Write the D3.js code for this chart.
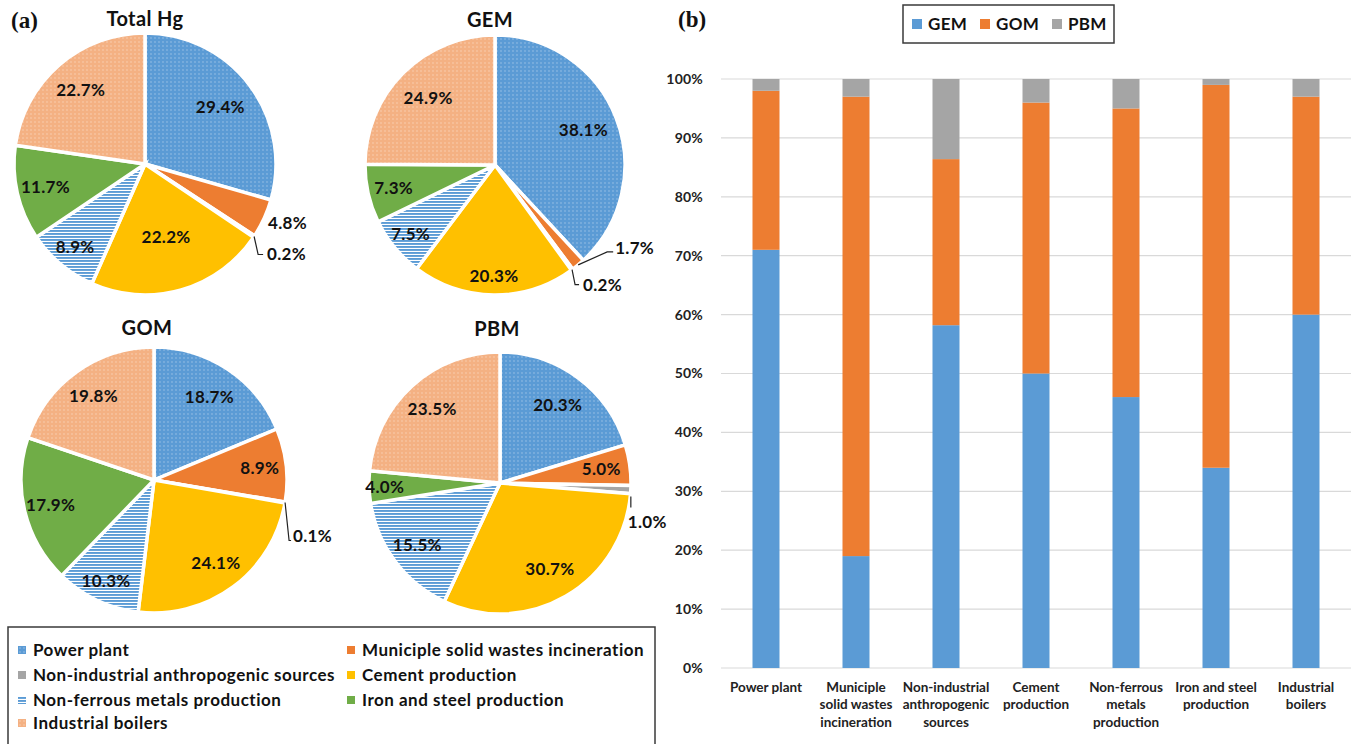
<!DOCTYPE html>
<html>
<head>
<meta charset="utf-8">
<script src="https://cdn.jsdelivr.net/npm/d3@7/dist/d3.min.js"></script>
<style>
  body { margin: 0; background: #fff; }
  svg { display: block; font-family: Lato, "Open Sans", sans-serif; font-weight: bold; }
</style>
</head>
<body>
<svg id="chart" width="1359" height="744"></svg>
<script>
// sources (same order for the pies, the legend and the bar categories)
const sources = [
    "Power plant",
    "Municiple solid wastes incineration",
    "Non-industrial anthropogenic sources",
    "Cement production",
    "Non-ferrous metals production",
    "Iron and steel production",
    "Industrial boilers"
];

// (a) share of each source, %
const totalHgShare = [29.4, 4.8, 0.2, 22.2, 8.9, 11.7, 22.7];
const gemShare = [38.1, 1.7, 0.2, 20.3, 7.5, 7.3, 24.9];
const gomShare = [18.7, 8.9, 0.1, 24.1, 10.3, 17.9, 19.8];
const pbmShare = [20.3, 5.0, 1.0, 30.7, 15.5, 4.0, 23.5];

// (b) speciation of each source, %
const species = ["GEM", "GOM", "PBM"];
const gemPart = [71, 19, 58.2, 50, 46, 34, 60];
const gomPart = [27, 78, 28.2, 46, 49, 65, 37];
const pbmPart = [2, 3, 13.6, 4, 5, 1, 3];
const tickLabels = [
    ["Power plant"],
    ["Municiple", "solid wastes", "incineration"],
    ["Non-industrial", "anthropogenic", "sources"],
    ["Cement", "production"],
    ["Non-ferrous", "metals", "production"],
    ["Iron and steel", "production"],
    ["Industrial", "boilers"]
];
const yTicks = [0, 10, 20, 30, 40, 50, 60, 70, 80, 90, 100];

const blue = "#5B9BD5", orange = "#ED7D31", grey = "#A5A5A5",
      yellow = "#FFC000", green = "#70AD47", peach = "#F4B183";

const svg = d3.select("#chart");
const defs = svg.append("defs");

function dotPattern(id, color) {
    const p = defs.append("pattern")
        .attr("id", id)
        .attr("patternUnits", "userSpaceOnUse")
        .attr("width", 4).attr("height", 4);
    p.append("rect").attr("width", 4).attr("height", 4).attr("fill", color);
    p.append("circle").attr("cx", 2).attr("cy", 2).attr("r", 0.7)
        .attr("fill", "#fff").attr("opacity", 0.45);
}
dotPattern("dotBlue", blue);
dotPattern("dotPeach", peach);

const stripes = defs.append("pattern")
    .attr("id", "stripeBlue")
    .attr("patternUnits", "userSpaceOnUse")
    .attr("width", 4).attr("height", 3);
stripes.append("rect").attr("width", 4).attr("height", 3).attr("fill", "#fff");
stripes.append("rect").attr("width", 4).attr("height", 1.9).attr("fill", blue);

const sourceFill = ["url(#dotBlue)", orange, grey, yellow, "url(#stripeBlue)", green, "url(#dotPeach)"];

// ---------- (a) pies ----------
const pies = [
    {
        title: "Total Hg", values: totalHgShare, cx: 145, cy: 164, r: 131, titleX: 145, titleY: 26,
        labelR: [0.72, null, null, 0.58, 0.83, 0.78, 0.75],
        callouts: [
            { i: 1, text: [4, 4], line: null },
            { i: 2, text: [13, 17], line: [[4, 18], [9, 18]] }
        ]
    },
    {
        title: "GEM", values: gemShare, cx: 495, cy: 165, r: 130, titleX: 490, titleY: 27,
        labelR: [0.73, null, null, 0.85, 0.84, 0.80, 0.73],
        callouts: [
            { i: 1, text: [37, -17], line: [[29, -13], [35, -13]] },
            { i: 2, text: [11, 15], line: [[3, 15], [7, 15]] }
        ]
    },
    {
        title: "GOM", values: gomShare, cx: 154, cy: 480, r: 133, titleX: 147, titleY: 335,
        labelR: [0.75, 0.80, null, 0.78, 0.84, 0.80, 0.78],
        callouts: [
            { i: 2, text: [8, 33], line: [[4, 38], [6, 38]] }
        ]
    },
    {
        title: "PBM", values: pbmShare, cx: 500, cy: 483, r: 131, titleX: 497, titleY: 336,
        labelR: [0.74, 0.78, null, 0.76, 0.79, 0.88, 0.77],
        callouts: [
            { i: 2, text: [-3, 32], line: null, tick: [[0, 7], [0, 18]] }
        ]
    }
];

const pie = d3.pie().sort(null).value(d => d);

pies.forEach(cfg => {
    const g = svg.append("g").attr("transform", `translate(${cfg.cx},${cfg.cy})`);
    const arcs = pie(cfg.values);
    const arc = d3.arc().innerRadius(0).outerRadius(cfg.r);

    g.selectAll("path")
        .data(arcs)
        .enter()
        .append("path")
        .attr("d", arc)
        .attr("fill", (d, i) => sourceFill[i])
        .attr("stroke", "#fff")
        .attr("stroke-width", 3.5)
        .attr("stroke-linejoin", "miter");

    const mid = d => (d.startAngle + d.endAngle) / 2;

    g.selectAll(".in-label")
        .data(arcs.filter((d, i) => cfg.labelR[i] !== null))
        .enter()
        .append("text")
        .attr("class", "in-label")
        .attr("x", d => Math.sin(mid(d)) * cfg.r * cfg.labelR[d.index])
        .attr("y", d => -Math.cos(mid(d)) * cfg.r * cfg.labelR[d.index])
        .attr("dy", "0.36em")
        .attr("text-anchor", "middle")
        .attr("font-size", 17)
        .attr("letter-spacing", 0.3)
        .attr("fill", "#111")
        .text(d => d.data.toFixed(1) + "%");

    cfg.callouts.forEach(c => {
        const d = arcs[c.i];
        const ex = Math.sin(mid(d)) * cfg.r, ey = -Math.cos(mid(d)) * cfg.r;
        if (c.line) {
            const pts = [[ex, ey]].concat(c.line.map(p => [ex + p[0], ey + p[1]]));
            g.append("path")
                .attr("d", d3.line()(pts))
                .attr("fill", "none")
                .attr("stroke", "#222")
                .attr("stroke-width", 1.2);
        }
        if (c.tick) {
            g.append("path")
                .attr("d", d3.line()(c.tick.map(p => [ex + p[0], ey + p[1]])))
                .attr("stroke", "#222")
                .attr("stroke-width", 1.2);
        }
        g.append("text")
            .attr("x", ex + c.text[0])
            .attr("y", ey + c.text[1])
            .attr("dy", "0.36em")
            .attr("font-size", 17)
            .attr("letter-spacing", 0.3)
            .attr("fill", "#111")
            .text(d.data.toFixed(1) + "%");
    });

    svg.append("text")
        .attr("x", cfg.titleX)
        .attr("y", cfg.titleY)
        .attr("text-anchor", "middle")
        .attr("font-size", 20)
        .attr("letter-spacing", 0.4)
        .attr("fill", "#111")
        .text(cfg.title);
});

svg.append("text")
    .attr("x", 11).attr("y", 28)
    .attr("font-family", "'Liberation Serif', 'DejaVu Serif', serif")
    .attr("font-size", 23)
    .attr("fill", "#111")
    .text("(a)");

// legend of the pies
svg.append("rect")
    .attr("x", 8).attr("y", 627)
    .attr("width", 647).attr("height", 130)
    .attr("fill", "#fff")
    .attr("stroke", "#3a3a3a")
    .attr("stroke-width", 1.5);

const legendCols = [18, 347];
const legendRows = [650, 675, 700, 723];
const legendPos = [[0, 0], [1, 0], [0, 1], [1, 1], [0, 2], [1, 2], [0, 3]];

const leg = svg.append("g").selectAll("g")
    .data(sources)
    .enter()
    .append("g")
    .attr("transform", (d, i) => `translate(${legendCols[legendPos[i][0]]},${legendRows[legendPos[i][1]]})`);

leg.append("rect")
    .attr("x", 0).attr("y", -4)
    .attr("width", 8).attr("height", 8)
    .attr("fill", (d, i) => sourceFill[i]);

leg.append("text")
    .attr("x", 15)
    .attr("dy", "0.36em")
    .attr("font-size", 17)
    .attr("letter-spacing", 0.5)
    .attr("fill", "#111")
    .text(d => d);

// ---------- (b) stacked bars ----------
const plot = { left: 721, right: 1351, top: 79, bottom: 668 };

const x = d3.scaleBand()
    .domain(sources)
    .range([plot.left, plot.right])
    .paddingInner(0.7)
    .paddingOuter(0.35);

const y = d3.scaleLinear()
    .domain([0, 100])
    .range([plot.bottom, plot.top]);

svg.append("g")
    .selectAll("line")
    .data(yTicks)
    .enter()
    .append("line")
    .attr("x1", plot.left).attr("x2", plot.right)
    .attr("y1", d => y(d)).attr("y2", d => y(d))
    .attr("stroke", "#d9d9d9")
    .attr("stroke-width", 1.2);

const yAxis = svg.append("g")
    .attr("transform", `translate(${plot.left},0)`)
    .call(d3.axisLeft(y).tickValues(yTicks).tickFormat(d => d + "%").tickSize(0).tickPadding(18));
yAxis.select(".domain").remove();
yAxis.selectAll("text")
    .attr("font-family", "Lato, sans-serif")
    .attr("font-weight", "bold")
    .attr("font-size", 14)
    .attr("letter-spacing", 0.2)
    .attr("fill", "#222");

const stackRows = sources.map((s, i) => ({ source: s, GEM: gemPart[i], GOM: gomPart[i], PBM: pbmPart[i] }));
const stacked = d3.stack().keys(species)(stackRows);
const speciesColor = d3.scaleOrdinal().domain(species).range([blue, orange, grey]);

svg.append("g")
    .selectAll("g")
    .data(stacked)
    .enter()
    .append("g")
    .attr("fill", d => speciesColor(d.key))
    .selectAll("rect")
    .data(d => d)
    .enter()
    .append("rect")
    .attr("x", d => x(d.data.source))
    .attr("y", d => y(d[1]))
    .attr("width", x.bandwidth())
    .attr("height", d => y(d[0]) - y(d[1]));

const xAxis = svg.append("g")
    .attr("transform", `translate(0,${plot.bottom})`)
    .call(d3.axisBottom(x).tickSize(0).tickFormat(""));
xAxis.select(".domain").remove();

xAxis.selectAll(".tick")
    .append("text")
    .attr("font-family", "Lato, sans-serif")
    .attr("font-weight", "bold")
    .attr("font-size", 13.5)
    .attr("fill", "#222")
    .attr("text-anchor", "middle")
    .selectAll("tspan")
    .data((d, i) => tickLabels[i])
    .enter()
    .append("tspan")
    .attr("x", 0)
    .attr("y", (d, i) => 19 + i * 17.5)
    .attr("dy", "0.36em")
    .text(d => d);

svg.append("text")
    .attr("x", 678).attr("y", 27)
    .attr("font-family", "'Liberation Serif', 'DejaVu Serif', serif")
    .attr("font-size", 23)
    .attr("fill", "#111")
    .text("(b)");

// legend of the bars
svg.append("rect")
    .attr("x", 903).attr("y", 5)
    .attr("width", 211).attr("height", 38)
    .attr("fill", "#fff")
    .attr("stroke", "#3a3a3a")
    .attr("stroke-width", 1.5);

const barLegX = [912, 980, 1052];
const bl = svg.append("g").selectAll("g")
    .data(species)
    .enter()
    .append("g")
    .attr("transform", (d, i) => `translate(${barLegX[i]},24)`);
bl.append("rect")
    .attr("y", -5)
    .attr("width", 10).attr("height", 10)
    .attr("fill", d => speciesColor(d));
bl.append("text")
    .attr("x", 16)
    .attr("dy", "0.36em")
    .attr("font-size", 17)
    .attr("letter-spacing", 0.3)
    .attr("fill", "#111")
    .text(d => d);
</script>
</body>
</html>
